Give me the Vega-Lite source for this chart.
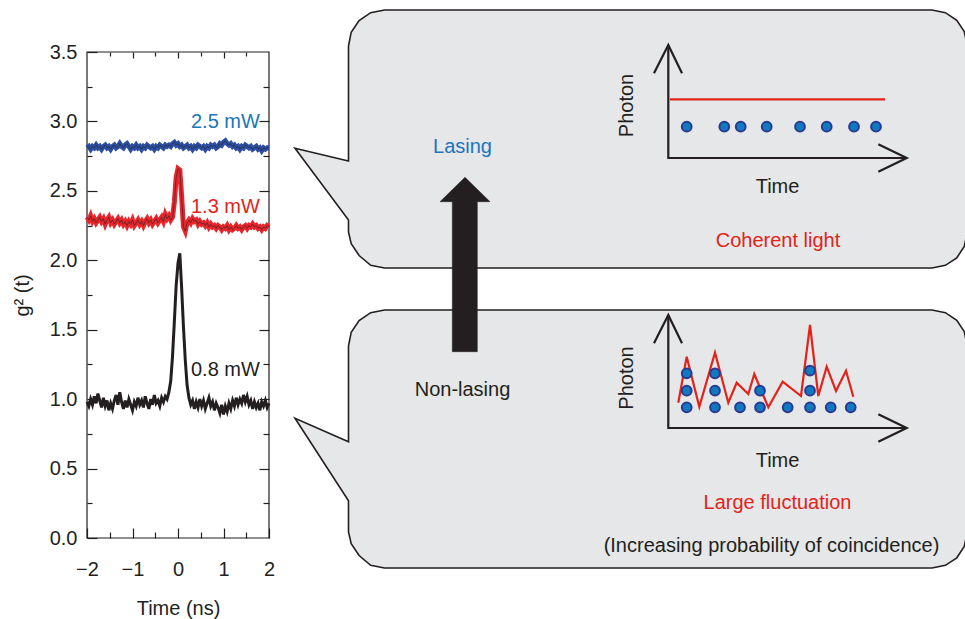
{
"$schema": "https://vega.github.io/schema/vega-lite/v6.json",
"width": 965, "height": 619,
"autosize": {"type": "none"},
"padding": 0,
"background": "white",
"config": {
  "view": {"stroke": null},
  "font": "Liberation Sans",
  "axis": {"grid": false, "domain": false, "tickColor": "#231f20", "tickWidth": 1.2, "labelColor": "#231f20", "labelFontSize": 20, "titleColor": "#231f20", "titleFontSize": 20, "titleFontWeight": "normal", "labelFlush": false, "labelOverlap": false},
  "text": {"fontSize": 20}
},
"datasets": {
  "traces": [
    {"t":-2.00,"k":0.98,"r":2.31,"b":2.81},{"t":-1.96,"k":0.95,"r":2.29,"b":2.82},{"t":-1.92,"k":1.00,"r":2.32,"b":2.80},{"t":-1.88,"k":0.96,"r":2.28,"b":2.82},
    {"t":-1.84,"k":1.02,"r":2.30,"b":2.81},{"t":-1.80,"k":0.97,"r":2.27,"b":2.83},{"t":-1.76,"k":1.04,"r":2.29,"b":2.81},{"t":-1.72,"k":0.99,"r":2.31,"b":2.82},
    {"t":-1.68,"k":0.94,"r":2.28,"b":2.80},{"t":-1.64,"k":1.01,"r":2.30,"b":2.82},{"t":-1.60,"k":0.95,"r":2.26,"b":2.83},{"t":-1.56,"k":0.99,"r":2.29,"b":2.81},
    {"t":-1.52,"k":0.92,"r":2.31,"b":2.82},{"t":-1.48,"k":0.97,"r":2.27,"b":2.80},{"t":-1.44,"k":0.93,"r":2.29,"b":2.82},{"t":-1.40,"k":0.99,"r":2.26,"b":2.83},
    {"t":-1.36,"k":1.03,"r":2.28,"b":2.81},{"t":-1.32,"k":0.96,"r":2.30,"b":2.82},{"t":-1.28,"k":1.05,"r":2.27,"b":2.84},{"t":-1.24,"k":0.98,"r":2.29,"b":2.82},
    {"t":-1.20,"k":0.93,"r":2.26,"b":2.81},{"t":-1.16,"k":0.99,"r":2.28,"b":2.83},{"t":-1.12,"k":0.94,"r":2.25,"b":2.84},{"t":-1.08,"k":1.00,"r":2.28,"b":2.82},
    {"t":-1.04,"k":0.96,"r":2.26,"b":2.80},{"t":-1.00,"k":0.92,"r":2.29,"b":2.82},{"t":-0.96,"k":0.98,"r":2.25,"b":2.81},{"t":-0.92,"k":0.95,"r":2.27,"b":2.83},
    {"t":-0.88,"k":1.01,"r":2.29,"b":2.81},{"t":-0.84,"k":0.96,"r":2.26,"b":2.82},{"t":-0.80,"k":0.99,"r":2.28,"b":2.80},{"t":-0.76,"k":0.94,"r":2.25,"b":2.82},
    {"t":-0.72,"k":1.02,"r":2.28,"b":2.81},{"t":-0.68,"k":0.97,"r":2.30,"b":2.83},{"t":-0.64,"k":0.93,"r":2.27,"b":2.82},{"t":-0.60,"k":1.00,"r":2.29,"b":2.81},
    {"t":-0.56,"k":0.96,"r":2.26,"b":2.82},{"t":-0.52,"k":1.03,"r":2.28,"b":2.80},{"t":-0.48,"k":0.97,"r":2.30,"b":2.82},{"t":-0.44,"k":0.99,"r":2.27,"b":2.81},
    {"t":-0.40,"k":0.95,"r":2.29,"b":2.83},{"t":-0.36,"k":1.01,"r":2.31,"b":2.82},{"t":-0.32,"k":0.98,"r":2.28,"b":2.81},{"t":-0.28,"k":1.02,"r":2.33,"b":2.83},
    {"t":-0.24,"k":1.00,"r":2.30,"b":2.82},{"t":-0.20,"k":1.05,"r":2.32,"b":2.83},{"t":-0.16,"k":1.13,"r":2.29,"b":2.82},{"t":-0.12,"k":1.31,"r":2.31,"b":2.84},
    {"t":-0.08,"k":1.56,"r":2.42,"b":2.85},{"t":-0.04,"k":1.82,"r":2.60,"b":2.83},{"t":0.00,"k":1.98,"r":2.66,"b":2.84},{"t":0.04,"k":2.05,"r":2.65,"b":2.82},
    {"t":0.08,"k":1.80,"r":2.46,"b":2.83},{"t":0.12,"k":1.52,"r":2.24,"b":2.81},{"t":0.16,"k":1.28,"r":2.21,"b":2.82},{"t":0.20,"k":1.10,"r":2.27,"b":2.83},
    {"t":0.24,"k":1.01,"r":2.29,"b":2.81},{"t":0.28,"k":0.96,"r":2.27,"b":2.82},{"t":0.32,"k":0.99,"r":2.30,"b":2.80},{"t":0.36,"k":0.93,"r":2.28,"b":2.82},
    {"t":0.40,"k":0.98,"r":2.29,"b":2.81},{"t":0.44,"k":0.94,"r":2.26,"b":2.83},{"t":0.48,"k":1.00,"r":2.28,"b":2.82},{"t":0.52,"k":0.95,"r":2.26,"b":2.81},
    {"t":0.56,"k":0.99,"r":2.27,"b":2.82},{"t":0.60,"k":0.93,"r":2.25,"b":2.80},{"t":0.64,"k":0.97,"r":2.27,"b":2.82},{"t":0.68,"k":1.01,"r":2.24,"b":2.81},
    {"t":0.72,"k":0.95,"r":2.26,"b":2.83},{"t":0.76,"k":0.98,"r":2.24,"b":2.82},{"t":0.80,"k":0.92,"r":2.25,"b":2.83},{"t":0.84,"k":0.97,"r":2.23,"b":2.81},
    {"t":0.88,"k":0.94,"r":2.25,"b":2.82},{"t":0.92,"k":0.90,"r":2.24,"b":2.84},{"t":0.96,"k":0.96,"r":2.22,"b":2.83},{"t":1.00,"k":0.89,"r":2.24,"b":2.85},
    {"t":1.04,"k":0.95,"r":2.23,"b":2.86},{"t":1.08,"k":0.91,"r":2.25,"b":2.84},{"t":1.12,"k":0.97,"r":2.22,"b":2.83},{"t":1.16,"k":0.93,"r":2.24,"b":2.84},
    {"t":1.20,"k":0.99,"r":2.22,"b":2.82},{"t":1.24,"k":0.95,"r":2.23,"b":2.83},{"t":1.28,"k":1.01,"r":2.25,"b":2.81},{"t":1.32,"k":0.96,"r":2.23,"b":2.82},
    {"t":1.36,"k":1.00,"r":2.24,"b":2.80},{"t":1.40,"k":0.97,"r":2.22,"b":2.82},{"t":1.44,"k":1.03,"r":2.24,"b":2.81},{"t":1.48,"k":0.98,"r":2.25,"b":2.83},
    {"t":1.52,"k":1.02,"r":2.23,"b":2.82},{"t":1.56,"k":0.96,"r":2.25,"b":2.81},{"t":1.60,"k":0.99,"r":2.24,"b":2.82},{"t":1.64,"k":0.93,"r":2.26,"b":2.80},
    {"t":1.68,"k":0.98,"r":2.24,"b":2.81},{"t":1.72,"k":0.94,"r":2.25,"b":2.82},{"t":1.76,"k":0.97,"r":2.23,"b":2.80},{"t":1.80,"k":0.92,"r":2.24,"b":2.81},
    {"t":1.84,"k":0.98,"r":2.22,"b":2.79},{"t":1.88,"k":0.95,"r":2.24,"b":2.81},{"t":1.92,"k":0.99,"r":2.23,"b":2.80},{"t":1.96,"k":0.94,"r":2.25,"b":2.81},
    {"t":2.00,"k":0.97,"r":2.24,"b":2.81}
  ],
  "bubbles": [
    {"id":"u","o":1,"x":34.85,"y":4.6},{"id":"u","o":2,"x":35.12,"y":3.22},{"id":"u","o":3,"x":35.91,"y":2.06},{"id":"u","o":4,"x":37.07,"y":1.27},
    {"id":"u","o":5,"x":38.45,"y":1.0},{"id":"u","o":6,"x":93.2,"y":1.0},{"id":"u","o":7,"x":94.54,"y":1.27},{"id":"u","o":8,"x":95.68,"y":2.03},
    {"id":"u","o":9,"x":96.43,"y":3.16},{"id":"u","o":10,"x":96.7,"y":4.5},{"id":"u","o":11,"x":96.7,"y":23.3},{"id":"u","o":12,"x":96.43,"y":24.64},
    {"id":"u","o":13,"x":95.68,"y":25.78},{"id":"u","o":14,"x":94.54,"y":26.53},{"id":"u","o":15,"x":93.2,"y":26.8},{"id":"u","o":16,"x":38.45,"y":26.8},
    {"id":"u","o":17,"x":37.07,"y":26.53},{"id":"u","o":18,"x":35.91,"y":25.55},{"id":"u","o":19,"x":35.12,"y":24.38},{"id":"u","o":20,"x":34.85,"y":23.2},
    {"id":"u","o":21,"x":34.85,"y":22.0},{"id":"u","o":22,"x":29.5,"y":14.83},{"id":"u","o":23,"x":34.85,"y":16.1},{"id":"u","o":24,"x":34.85,"y":4.6},
    {"id":"l","o":1,"x":34.85,"y":34.6},{"id":"l","o":2,"x":35.12,"y":33.22},{"id":"l","o":3,"x":35.91,"y":32.06},{"id":"l","o":4,"x":37.07,"y":31.27},
    {"id":"l","o":5,"x":38.45,"y":31.0},{"id":"l","o":6,"x":93.2,"y":31.0},{"id":"l","o":7,"x":94.54,"y":31.27},{"id":"l","o":8,"x":95.68,"y":32.03},
    {"id":"l","o":9,"x":96.43,"y":33.16},{"id":"l","o":10,"x":96.7,"y":34.5},{"id":"l","o":11,"x":96.7,"y":53.3},{"id":"l","o":12,"x":96.43,"y":54.64},
    {"id":"l","o":13,"x":95.68,"y":55.78},{"id":"l","o":14,"x":94.54,"y":56.53},{"id":"l","o":15,"x":93.2,"y":56.8},{"id":"l","o":16,"x":38.45,"y":56.8},
    {"id":"l","o":17,"x":37.07,"y":56.53},{"id":"l","o":18,"x":35.91,"y":55.55},{"id":"l","o":19,"x":35.12,"y":54.38},{"id":"l","o":20,"x":34.85,"y":53.2},
    {"id":"l","o":21,"x":34.85,"y":50.07},{"id":"l","o":22,"x":29.5,"y":41.83},{"id":"l","o":23,"x":34.85,"y":44.17},{"id":"l","o":24,"x":34.85,"y":34.6}
  ],
  "bigarrow": [
    {"o":1,"x":46.5,"y":17.73},{"o":2,"x":49.0,"y":20.17},{"o":3,"x":47.73,"y":20.17},{"o":4,"x":47.73,"y":35.17},
    {"o":5,"x":45.23,"y":35.17},{"o":6,"x":45.23,"y":20.17},{"o":7,"x":44.0,"y":20.17},{"o":8,"x":46.5,"y":17.73}
  ],
  "axes": [
    {"id":"uL","o":1,"x":66.83,"y":4.5},{"id":"uL","o":2,"x":66.83,"y":15.8},{"id":"uL","o":3,"x":90.67,"y":15.8},
    {"id":"uV","o":1,"x":65.4,"y":7.33},{"id":"uV","o":2,"x":66.83,"y":4.5},{"id":"uV","o":3,"x":68.2,"y":7.33},
    {"id":"uH","o":1,"x":87.83,"y":14.43},{"id":"uH","o":2,"x":90.67,"y":15.8},{"id":"uH","o":3,"x":87.83,"y":17.17},
    {"id":"lL","o":1,"x":66.83,"y":31.5},{"id":"lL","o":2,"x":66.83,"y":42.8},{"id":"lL","o":3,"x":90.67,"y":42.8},
    {"id":"lV","o":1,"x":65.4,"y":34.33},{"id":"lV","o":2,"x":66.83,"y":31.5},{"id":"lV","o":3,"x":68.2,"y":34.33},
    {"id":"lH","o":1,"x":87.83,"y":41.43},{"id":"lH","o":2,"x":90.67,"y":42.8},{"id":"lH","o":3,"x":87.83,"y":44.17}
  ],
  "signal": [
    {"id":"c","o":1,"x":67.0,"y":9.93},{"id":"c","o":2,"x":88.5,"y":9.93},
    {"id":"f","o":1,"x":67.83,"y":40.27},{"id":"f","o":2,"x":68.67,"y":35.67},{"id":"f","o":3,"x":69.93,"y":40.67},{"id":"f","o":4,"x":71.5,"y":35.27},
    {"id":"f","o":5,"x":72.83,"y":40.27},{"id":"f","o":6,"x":73.67,"y":38.27},{"id":"f","o":7,"x":74.83,"y":39.4},{"id":"f","o":8,"x":75.43,"y":37.4},
    {"id":"f","o":9,"x":76.83,"y":40.73},{"id":"f","o":10,"x":78.27,"y":38.17},{"id":"f","o":11,"x":80.1,"y":39.6},{"id":"f","o":12,"x":81.0,"y":32.5},
    {"id":"f","o":13,"x":81.83,"y":39.6},{"id":"f","o":14,"x":82.67,"y":36.67},{"id":"f","o":15,"x":83.6,"y":39.1},{"id":"f","o":16,"x":84.6,"y":37.07},
    {"id":"f","o":17,"x":85.33,"y":39.67}
  ],
  "dots": [
    {"x":68.67,"y":12.67},{"x":72.43,"y":12.67},{"x":74.07,"y":12.67},{"x":76.67,"y":12.67},{"x":80.0,"y":12.67},{"x":82.67,"y":12.67},{"x":85.4,"y":12.67},{"x":87.6,"y":12.67},
    {"x":68.67,"y":40.73},{"x":71.5,"y":40.73},{"x":74.0,"y":40.73},{"x":76.0,"y":40.73},{"x":78.77,"y":40.73},{"x":81.0,"y":40.73},{"x":83.07,"y":40.73},{"x":85.07,"y":40.73},
    {"x":68.67,"y":39.07},{"x":71.5,"y":39.07},{"x":76.0,"y":39.07},{"x":81.0,"y":39.07},
    {"x":68.67,"y":37.33},{"x":71.5,"y":37.33},{"x":81.0,"y":37.07}
  ]
},
"layer": [
  {
    "encoding": {
      "x": {"field": "x", "type": "quantitative", "scale": {"domain": [0, 96.5], "nice": false, "zero": false}, "axis": null},
      "y": {"field": "y", "type": "quantitative", "scale": {"domain": [0, 61.9], "nice": false, "zero": false, "reverse": true}, "axis": null}
    },
    "layer": [
      {"data": {"name": "bubbles"}, "mark": {"type": "line", "fill": "#e6e7e8", "stroke": "#231f20", "strokeWidth": 1.6, "strokeJoin": "miter"},
       "encoding": {"order": {"field": "o", "type": "quantitative"}, "detail": {"field": "id"}}},
      {"data": {"name": "bigarrow"}, "mark": {"type": "line", "fill": "#231f20", "stroke": "#231f20", "strokeWidth": 0.5, "strokeJoin": "miter"},
       "encoding": {"order": {"field": "o", "type": "quantitative"}}},
      {"data": {"name": "axes"}, "mark": {"type": "line", "stroke": "#231f20", "strokeWidth": 2.2, "strokeJoin": "miter", "strokeCap": "butt"},
       "encoding": {"order": {"field": "o", "type": "quantitative"}, "detail": {"field": "id"}}},
      {"data": {"name": "signal"}, "mark": {"type": "line", "stroke": "#e2231a", "strokeWidth": 2.2, "strokeJoin": "miter"},
       "encoding": {"order": {"field": "o", "type": "quantitative"}, "detail": {"field": "id"}}},
      {"data": {"name": "dots"}, "mark": {"type": "point", "shape": "circle", "filled": true, "fill": "#0f7abf", "stroke": "#2b3990", "strokeWidth": 2, "size": 95, "opacity": 1}},
      {"data": {"values": [{"x": 46.25, "y": 15.33, "s": "Lasing"}]},
       "mark": {"type": "text", "color": "#1b75bb", "align": "center", "baseline": "alphabetic", "fontSize": 20},
       "encoding": {"text": {"field": "s"}}},
      {"data": {"values": [{"x": 77.8, "y": 24.65, "s": "Coherent light"}, {"x": 77.75, "y": 50.93, "s": "Large fluctuation"}]},
       "mark": {"type": "text", "color": "#e2231a", "align": "center", "baseline": "alphabetic", "fontSize": 20},
       "encoding": {"text": {"field": "s"}}},
      {"data": {"values": [{"x": 46.25, "y": 39.6, "s": "Non-lasing"}, {"x": 77.75, "y": 19.33, "s": "Time"}, {"x": 77.75, "y": 46.67, "s": "Time"}, {"x": 77.15, "y": 55.17, "s": "(Increasing probability of coincidence)"}]},
       "mark": {"type": "text", "color": "#231f20", "align": "center", "baseline": "alphabetic", "fontSize": 20},
       "encoding": {"text": {"field": "s"}}},
      {"data": {"values": [{"x": 62.7, "y": 10.55, "s": "Photon"}, {"x": 62.7, "y": 37.8, "s": "Photon"}]},
       "mark": {"type": "text", "color": "#231f20", "align": "center", "baseline": "middle", "angle": 270, "fontSize": 20},
       "encoding": {"text": {"field": "s"}}}
    ]
  },
  {
    "resolve": {"axis": {"x": "independent", "y": "independent"}},
    "layer": [
      {"data": {"values": [{"t": -2, "t2": 2, "g": 0, "g2": 3.5}]},
       "mark": {"type": "rect", "fillOpacity": 0, "stroke": "#231f20", "strokeWidth": 1.2},
       "encoding": {
         "x": {"field": "t", "type": "quantitative", "scale": {"domain": [-2, 2], "range": [87, 269], "nice": false, "zero": false}, "axis": null},
         "x2": {"field": "t2"},
         "y": {"field": "g", "type": "quantitative", "scale": {"domain": [0, 3.5], "range": [538, 52], "nice": false, "zero": false}, "axis": null},
         "y2": {"field": "g2"}
       }},
      {"data": {"name": "traces"}, "mark": {"type": "line", "stroke": "#231f20", "strokeWidth": 3},
       "encoding": {
         "x": {"field": "t", "type": "quantitative", "scale": {"domain": [-2, 2], "range": [87, 269], "nice": false, "zero": false},
               "axis": {"orient": "bottom", "offset": -91, "values": [-2, -1, 0, 1, 2], "format": "d", "tickSize": 10, "labelPadding": 21, "title": "Time (ns)", "titlePadding": 19}},
         "y": {"field": "k", "type": "quantitative", "scale": {"domain": [0, 3.5], "range": [538, 52], "nice": false, "zero": false},
               "axis": {"orient": "left", "offset": -97, "values": [0, 0.5, 1, 1.5, 2, 2.5, 3, 3.5], "format": ".1f", "tickSize": 10, "labelPadding": 10, "title": "g² (t)", "titlePadding": 17}}
       }},
      {"data": {"name": "traces"}, "mark": {"type": "line", "stroke": "#e8262b", "strokeWidth": 5},
       "encoding": {
         "x": {"field": "t", "type": "quantitative", "scale": {"domain": [-2, 2], "range": [87, 269], "nice": false, "zero": false},
               "axis": {"orient": "bottom", "offset": -87, "values": [-1.5, -0.5, 0.5, 1.5], "tickSize": 6, "labels": false, "title": null}},
         "y": {"field": "r", "type": "quantitative", "scale": {"domain": [0, 3.5], "range": [538, 52], "nice": false, "zero": false},
               "axis": {"orient": "left", "offset": -92, "values": [0.25, 0.75, 1.25, 1.75, 2.25, 2.75, 3.25], "tickSize": 5, "labels": false, "title": null}}
       }},
      {"data": {"name": "traces"}, "mark": {"type": "line", "stroke": "#231f20", "strokeWidth": 1, "opacity": 0.55},
       "encoding": {
         "x": {"field": "t", "type": "quantitative", "scale": {"domain": [-2, 2], "range": [87, 269], "nice": false, "zero": false}, "axis": null},
         "y": {"field": "r", "type": "quantitative", "scale": {"domain": [0, 3.5], "range": [538, 52], "nice": false, "zero": false}, "axis": null}
       }},
      {"data": {"name": "traces"}, "mark": {"type": "line", "stroke": "#2d4fa2", "strokeWidth": 5},
       "encoding": {
         "x": {"field": "t", "type": "quantitative", "scale": {"domain": [-2, 2], "range": [87, 269], "nice": false, "zero": false},
               "axis": {"orient": "top", "offset": -58, "values": [-1, 0, 1], "tickSize": 6, "labels": false, "title": null}},
         "y": {"field": "b", "type": "quantitative", "scale": {"domain": [0, 3.5], "range": [538, 52], "nice": false, "zero": false},
               "axis": {"orient": "right", "offset": -706, "values": [0.5, 1, 1.5, 2, 2.5, 3], "tickSize": 10, "labels": false, "title": null}}
       }},
      {"data": {"name": "traces"}, "mark": {"type": "line", "stroke": "#231f20", "strokeWidth": 1, "opacity": 0.55},
       "encoding": {
         "x": {"field": "t", "type": "quantitative", "scale": {"domain": [-2, 2], "range": [87, 269], "nice": false, "zero": false}, "axis": null},
         "y": {"field": "b", "type": "quantitative", "scale": {"domain": [0, 3.5], "range": [538, 52], "nice": false, "zero": false}, "axis": null}
       }},
      {"data": {"values": [{"t": 1.8, "g": 2.95, "label": "2.5 mW"}, {"t": 1.8, "g": 2.34, "label": "1.3 mW"}, {"t": 1.8, "g": 1.17, "label": "0.8 mW"}]},
       "mark": {"type": "text", "align": "right", "baseline": "alphabetic", "fontSize": 20},
       "encoding": {
         "x": {"field": "t", "type": "quantitative", "scale": {"domain": [-2, 2], "range": [87, 269], "nice": false, "zero": false},
               "axis": {"orient": "top", "offset": -56, "values": [-1.5, -0.5, 0.5, 1.5], "tickSize": 4, "labels": false, "title": null}},
         "y": {"field": "g", "type": "quantitative", "scale": {"domain": [0, 3.5], "range": [538, 52], "nice": false, "zero": false},
               "axis": {"orient": "right", "offset": -702, "values": [0.25, 0.75, 1.25, 1.75, 2.25, 2.75, 3.25], "tickSize": 6, "labels": false, "title": null}},
         "text": {"field": "label"},
         "color": {"field": "label", "type": "nominal", "scale": {"domain": ["2.5 mW", "1.3 mW", "0.8 mW"], "range": ["#1b75bb", "#e2231a", "#231f20"]}, "legend": null}
       }}
    ]
  }
],
"resolve": {"scale": {"x": "independent", "y": "independent"}, "axis": {"x": "independent", "y": "independent"}}
}
